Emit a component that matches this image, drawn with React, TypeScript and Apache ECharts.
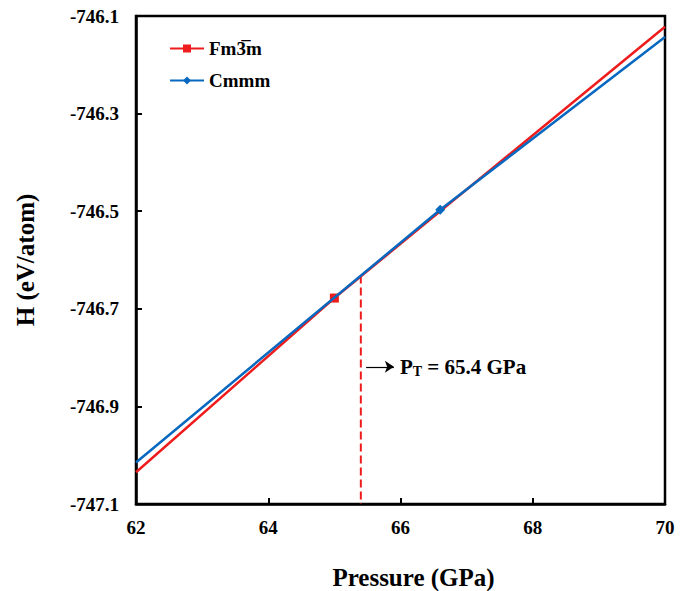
import React, { useEffect, useRef } from "react";
import * as echarts from "echarts";

const redName = "Fm3\u0305m";
const blueName = "Cmmm";
const redPressure = [62, 65, 70];
const redEnthalpy = [-747.035, -746.678, -746.122];
const redMarkerIndex = 1;
const bluePressure = [62, 66.6, 70];
const blueEnthalpy = [-747.015, -746.497, -746.143];
const blueMarkerIndex = 1;
const transitionPressure = 65.4;
const transitionEnthalpy = -746.632;
const arrowY = -746.819;
const arrowX = [65.48, 65.9];
const xTicks = { min: 62, max: 70, interval: 2 };
const yTicks = { min: -747.1, max: -746.1, interval: 0.2 };

const serif = "Liberation Serif";

export default function App() {
  const ref = useRef<HTMLDivElement>(null);
  useEffect(() => {
    document.body.style.margin = "0";
    const chart = echarts.init(ref.current!, null, { renderer: "svg" });
    const mk = (xs: number[], ys: number[], mi: number) =>
      xs.map((x, i) => (i === mi ? { value: [x, ys[i]] } : { value: [x, ys[i]], symbol: "none" }));
    chart.setOption({
      animation: false,
      backgroundColor: "#fff",
      grid: {
        left: 136,
        right: 23,
        top: 16,
        bottom: 87,
        outerBoundsMode: "none",
        containLabel: false,
        show: true,
        borderColor: "#000",
        borderWidth: 2.5,
        backgroundColor: "transparent",
      },
      legend: {
        data: [redName, blueName],
        orient: "vertical",
        left: 164,
        top: 34,
        itemWidth: 34,
        itemHeight: 10,
        itemGap: 13,
        textStyle: { fontFamily: serif, fontWeight: "bold", fontSize: 19, color: "#000" },
      },
      xAxis: {
        type: "value",
        min: xTicks.min,
        max: xTicks.max,
        interval: xTicks.interval,
        name: "Pressure (GPa)",
        nameLocation: "middle",
        nameGap: 61,
        nameTextStyle: {
          fontFamily: serif,
          fontWeight: "bold",
          fontSize: 25,
          color: "#000",
          padding: [0, 0, 0, 26],
        },
        axisLine: { lineStyle: { color: "#000", width: 2.5 } },
        axisTick: { inside: true, length: 6, lineStyle: { color: "#000", width: 2 } },
        axisLabel: { fontFamily: serif, fontWeight: "bold", fontSize: 19, color: "#000", margin: 14 },
        splitLine: { show: false },
      },
      yAxis: {
        type: "value",
        min: yTicks.min,
        max: yTicks.max,
        interval: yTicks.interval,
        name: "H (eV/atom)",
        nameLocation: "middle",
        nameGap: 98,
        nameTextStyle: { fontFamily: serif, fontWeight: "bold", fontSize: 25, color: "#000" },
        axisLine: { lineStyle: { color: "#000", width: 2.5 } },
        axisTick: { inside: true, length: 6, lineStyle: { color: "#000", width: 2 } },
        axisLabel: {
          fontFamily: serif,
          fontWeight: "bold",
          fontSize: 19,
          color: "#000",
          margin: 17,
          formatter: (v: number) => v.toFixed(1),
        },
        splitLine: { show: false },
      },
      series: [
        {
          name: redName,
          type: "line",
          data: mk(redPressure, redEnthalpy, redMarkerIndex),
          symbol: "rect",
          symbolSize: 9,
          lineStyle: { color: "#EE1C1C", width: 2.5 },
          itemStyle: { color: "#EE1C1C" },
          z: 2,
        },
        {
          name: blueName,
          type: "line",
          data: mk(bluePressure, blueEnthalpy, blueMarkerIndex),
          symbol: "diamond",
          symbolSize: 10,
          lineStyle: { color: "#0868C0", width: 2.5 },
          itemStyle: { color: "#0868C0" },
          z: 3,
        },
        {
          name: "transition",
          type: "line",
          data: [
            [transitionPressure, transitionEnthalpy],
            [transitionPressure, yTicks.min],
          ],
          symbol: "none",
          lineStyle: { color: "#EE1C1C", width: 2, type: [8, 4] },
          z: 1,
          markLine: {
            silent: true,
            symbol: ["none", "arrow"],
            symbolSize: [9, 9],
            lineStyle: { color: "#000", width: 1.2, type: "solid" },
            label: {
              show: true,
              position: "end",
              distance: 6,
              formatter: "{p|P}{s|T}{p| = 65.4 GPa}",
              rich: {
                p: { fontFamily: serif, fontWeight: "bold", fontSize: 21, color: "#000" },
                s: {
                  fontFamily: serif,
                  fontWeight: "bold",
                  fontSize: 14,
                  color: "#000",
                  verticalAlign: "bottom",
                  padding: [9, 0, 0, 0],
                },
              },
            },
            data: [[{ coord: [arrowX[0], arrowY] }, { coord: [arrowX[1], arrowY] }]],
          },
        },
      ],
    });
    return () => chart.dispose();
  }, []);
  return <div ref={ref} style={{ width: 688, height: 591 }} />;
}
